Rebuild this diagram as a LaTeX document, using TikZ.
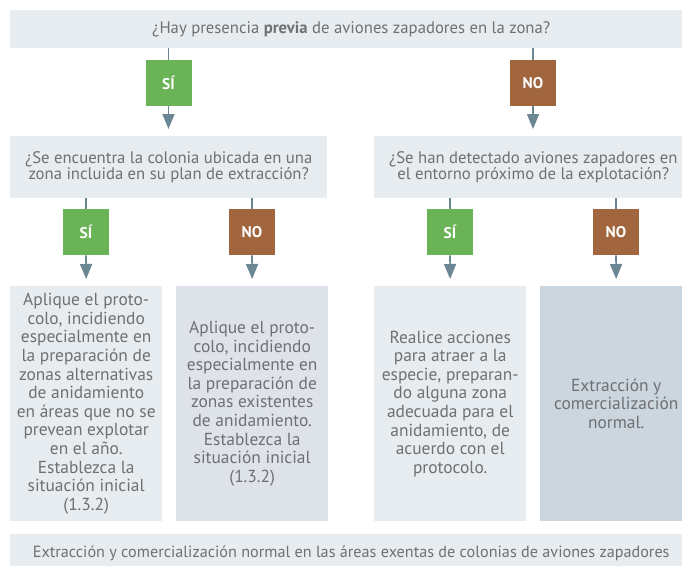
\documentclass[tikz,border=0pt]{standalone}
\usepackage{fontspec}
\setmainfont{PT Sans}
\usetikzlibrary{arrows.meta}
\definecolor{txt}{HTML}{6F7073}
\definecolor{pale}{HTML}{E6ECEF}
\definecolor{lav}{HTML}{DEE2E9}
\definecolor{steel}{HTML}{CBD6DE}
\definecolor{yesg}{HTML}{6AB457}
\definecolor{nob}{HTML}{A2663F}
\definecolor{arr}{HTML}{6B8794}
\tikzset{
  panel/.style={fill=#1, draw=none, anchor=north west, inner sep=0pt, align=center,
    text=txt, font=\fontsize{16.7}{16.8}\selectfont},
  tall/.style={panel=#1, minimum width=152pt, minimum height=235pt,
    font=\fontsize{17.4}{18.6}\selectfont},
  badge/.style={fill=#1, anchor=north, minimum width=46pt, minimum height=46pt, inner sep=0pt,
    text=white, font=\fontsize{15.5}{18}\selectfont\bfseries},
  conn/.style={draw=arr, line width=1.6pt},
  connarrow/.style={conn, -{Triangle[length=15pt,width=12pt]}, shorten >=7pt}
}
\begin{document}
\begin{tikzpicture}[x=1pt,y=-1pt]
\path[use as bounding box, clip] (0,0) rectangle (682,565);
% question boxes
\node[panel=pale, minimum width=682pt, minimum height=38pt] (q0) at (10,10)
  {¿Hay presencia \textbf{previa} de aviones zapadores en la zona?};
\node[panel=pale, minimum width=317pt, minimum height=62pt] (q1) at (10,136)
  {¿Se encuentra la colonia ubicada en una\\zona incluida en su plan de extracción?};
\node[panel=pale, minimum width=318pt, minimum height=62pt] (q2) at (374,136)
  {¿Se han detectado aviones zapadores en\\el entorno próximo de la explotación?};
% badges
\node[badge=yesg] (s1) at (168.5,60) {SÍ};
\node[badge=nob] (n1) at (533,60) {NO};
\node[badge=yesg] (s2) at (86,209) {SÍ};
\node[badge=nob] (n2) at (252,209) {NO};
\node[badge=yesg] (s3) at (450,209) {SÍ};
\node[badge=nob] (n3) at (616,209) {NO};
% outcome boxes
\node[tall=pale] (r1) at (10,286)
  {Aplique el proto-\\colo, incidiendo\\especialmente en\\la preparación de\\zonas alternativas\\de anidamiento\\en áreas que no se\\prevean explotar\\en el año.\\Establezca la\\situación inicial\\(1.3.2)};
\node[tall=lav] (r2) at (176,286)
  {Aplique el proto-\\colo, incidiendo\\especialmente en\\la preparación de\\zonas existentes\\de anidamiento.\\Establezca la\\situación inicial\\(1.3.2)};
\node[tall=pale] (r3) at (374,286)
  {Realice acciones\\para atraer a la\\especie, preparan-\\do alguna zona\\adecuada para el\\anidamiento, de\\acuerdo con el\\protocolo.};
\node[tall=steel] (r4) at (540,286)
  {Extracción y\\comercialización\\normal.};
% bottom box
\node[panel=pale, minimum width=682pt, minimum height=38pt, font=\fontsize{16.2}{18}\selectfont] (b) at (10,534)
  {Extracción y comercialización normal en las áreas exentas de colonias de aviones zapadores};
% connectors
\draw[conn] (s1.north |- q0.south) -- (s1.north);
\draw[conn] (n1.north |- q0.south) -- (n1.north);
\draw[connarrow] (s1.south) -- (s1.south |- q1.north);
\draw[connarrow] (n1.south) -- (n1.south |- q2.north);
\draw[conn] (s2.north |- q1.south) -- (s2.north);
\draw[conn] (n2.north |- q1.south) -- (n2.north);
\draw[conn] (s3.north |- q2.south) -- (s3.north);
\draw[conn] (n3.north |- q2.south) -- (n3.north);
\draw[connarrow] (s2.south) -- (r1.north);
\draw[connarrow] (n2.south) -- (r2.north);
\draw[connarrow] (s3.south) -- (r3.north);
\draw[connarrow] (n3.south) -- (r4.north);
\end{tikzpicture}
\end{document}
